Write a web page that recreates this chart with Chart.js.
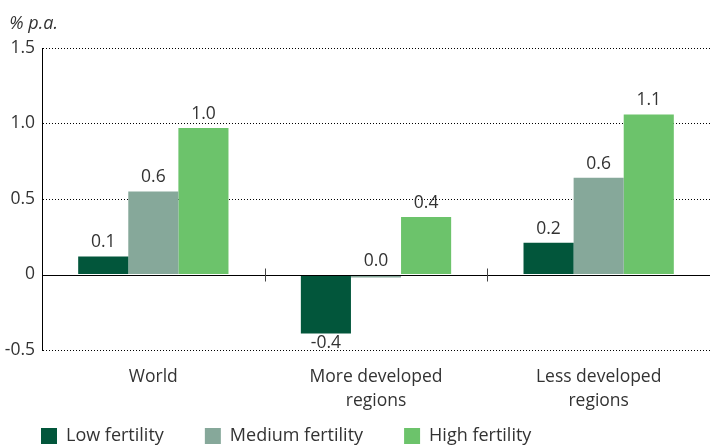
<!DOCTYPE html>
<html>
<head>
<meta charset="utf-8">
<script src="https://cdn.jsdelivr.net/npm/chart.js@4.4.1/dist/chart.umd.min.js"></script>
<style>
html,body{margin:0;padding:0;background:#fff;}
#wrap{width:710px;height:446px;position:relative;}
</style>
</head>
<body>
<div id="wrap"><canvas id="c" width="710" height="446"></canvas></div>
<script>
const categories = [['World'], ['More developed', 'regions'], ['Less developed', 'regions']];
const seriesNames = ['Low fertility', 'Medium fertility', 'High fertility'];
const lowFertility = [0.12, -0.39, 0.21];
const mediumFertility = [0.55, -0.02, 0.64];
const highFertility = [0.97, 0.38, 1.06];
const yTicks = [-0.5, 0, 0.5, 1.0, 1.5];
const colors = ['#02563B', '#86A89A', '#6CC36B'];

const FONT = '"Open Sans", "Liberation Sans", Arial, sans-serif';
const TXT = '#333333';

function fmt(v) {
  if (Math.abs(v) < 0.05) return '0.0';
  return v.toFixed(1);
}

const labelPlugin = {
  id: 'barLabels',
  afterDatasetsDraw(chart) {
    const ctx = chart.ctx;
    ctx.save();
    ctx.font = '17.5px ' + FONT;
    ctx.fillStyle = TXT;
    ctx.textAlign = 'center';
    ctx.textBaseline = 'middle';
    chart.data.datasets.forEach((ds, di) => {
      const meta = chart.getDatasetMeta(di);
      meta.data.forEach((bar, i) => {
        const v = ds.data[i];
        let y;
        if (v < -0.1) y = Math.max(bar.y, bar.base) + 10;
        else y = Math.min(bar.y, bar.base) - 14;
        ctx.fillText(fmt(v), bar.x, y);
      });
    });
    ctx.restore();
  }
};

const axisPlugin = {
  id: 'zeroAxis',
  afterLayout(chart) {
    // let the two-line category labels extend below the axis box without being clipped
    const xs = chart.scales.x;
    xs.bottom = chart.height;
  },
  afterDatasetsDraw(chart) {
    const ctx = chart.ctx;
    const ys = chart.scales.y, xs = chart.scales.x;
    const y0 = ys.getPixelForValue(0);
    ctx.save();
    ctx.strokeStyle = '#000';
    ctx.lineWidth = 1;
    ctx.beginPath();
    ctx.moveTo(chart.chartArea.left, Math.round(y0) + 0.5);
    ctx.lineTo(chart.chartArea.right, Math.round(y0) + 0.5);
    ctx.stroke();
    ctx.strokeStyle = '#444';
    const n = categories.length;
    for (let i = 1; i < n; i++) {
      const x = (xs.getPixelForValue(i - 1) + xs.getPixelForValue(i)) / 2;
      ctx.beginPath();
      ctx.moveTo(Math.round(x) + 0.5, y0 - 6);
      ctx.lineTo(Math.round(x) + 0.5, y0 + 7);
      ctx.stroke();
    }
    ctx.restore();
  }
};

new Chart(document.getElementById('c'), {
  type: 'bar',
  data: {
    labels: categories,
    datasets: [
      { label: seriesNames[0], data: lowFertility, backgroundColor: colors[0] },
      { label: seriesNames[1], data: mediumFertility, backgroundColor: colors[1] },
      { label: seriesNames[2], data: highFertility, backgroundColor: colors[2] }
    ]
  },
  options: {
    responsive: false,
    animation: false,
    devicePixelRatio: 1,
    layout: { padding: { left: 0, right: 0, top: 0, bottom: 0 } },
    datasets: { bar: { categoryPercentage: 0.675, barPercentage: 1.0, borderWidth: 0 } },
    plugins: {
      title: {
        display: true,
        text: '  % p.a.',
        align: 'start',
        color: TXT,
        font: { family: FONT, size: 18, style: 'italic', weight: 'normal', lineHeight: 1.2 },
        padding: { top: 13, bottom: 13.4 }
      },
      legend: {
        display: true,
        position: 'bottom',
        align: 'start',
        maxHeight: 60,
        labels: {
          boxWidth: 16,
          boxHeight: 16,
          padding: 41,
          color: TXT,
          font: { family: FONT, size: 18 }
        }
      },
      tooltip: { enabled: false }
    },
    scales: {
      x: {
        grid: { display: false, drawTicks: false },
        border: { display: false },
        ticks: { color: TXT, font: { family: FONT, size: 17.5, lineHeight: 1.37 }, padding: 15, maxRotation: 0, autoSkip: false },
        afterFit(scale) { scale.height = 36; }
      },
      y: {
        min: -0.5,
        max: 1.5,
        afterBuildTicks(scale) { scale.ticks = yTicks.map(v => ({ value: v })); },
        ticks: {
          color: TXT,
          font: { family: FONT, size: 17.5 },
          padding: 7,
          callback: (v) => (v === 0 ? '0' : Number(v).toFixed(1))
        },
        grid: {
          drawTicks: false,
          color: (ctx) => (ctx.tick && ctx.tick.value === 0 ? 'rgba(0,0,0,0)' : '#000'),
          lineWidth: 1
        },
        border: { display: true, color: '#000', width: 1, dash: [1, 2] },
        afterFit(scale) { scale.width = 42; }
      }
    }
  },
  plugins: [labelPlugin, axisPlugin]
});
</script>
</body>
</html>
